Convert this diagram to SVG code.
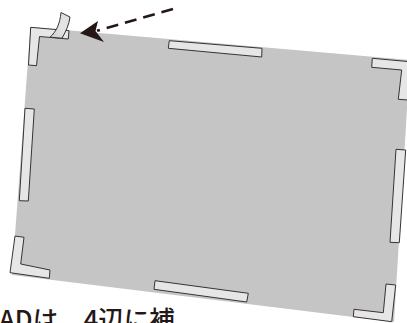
<svg xmlns="http://www.w3.org/2000/svg" width="407" height="323" viewBox="0 0 407 323">
<style>
.tape{fill:#e6e6e6;stroke:#3a3232;stroke-width:1;stroke-linejoin:miter}
.board{fill:#c4c5c4}
.lbl{font-family:"Noto Sans CJK JP","Noto Sans",sans-serif;font-size:25.5px;font-weight:500;fill:#231815}
</style>
<defs>
<linearGradient id="curlG" x1="0" y1="1" x2="1" y2="0">
<stop offset="0" stop-color="#c9c9c9"/>
<stop offset="0.5" stop-color="#e6e6e6"/>
<stop offset="1" stop-color="#dcdcdc"/>
</linearGradient>
</defs>
<g id="board"><polygon class="board" points="30.5,27 410,60 394,322 12,275"/></g>
<g id="tape-tl">
<polygon class="tape" points="30.7,27.3 69,30.7 68.3,39 39.5,36.5 36.5,65.7 28.5,65"/>
<path d="M50,37.2 C56,32 60,24 61,12.5 L70,17 C69,25 66,31 62,38.2 Z" fill="url(#curlG)" stroke="#3a3232" stroke-width="1"/>
</g>
<g id="tape-top"><polygon class="tape" points="169.3,40.7 262,48.3 261.7,57 168.3,48.3"/></g>
<g id="tape-tr"><polygon class="tape" points="372.3,58.3 413,62 408,100 398.3,99.3 401.7,70 371.7,67.3"/></g>
<g id="tape-right"><polygon class="tape" points="396,149.3 405.7,150 399.3,242.7 390,242.3"/></g>
<g id="tape-br"><polygon class="tape" points="386,284 395.7,285 391.7,321.7 353.3,316.7 354,309.3 383.3,312.7"/></g>
<g id="tape-bottom"><polygon class="tape" points="155,280.7 248.3,293.3 246.7,302 154,289.3"/></g>
<g id="tape-bl"><polygon class="tape" points="15,236 24,237.3 20.7,264 50,270 49.3,278.3 10,272.7"/></g>
<g id="tape-left"><polygon class="tape" points="25,108.3 34.3,109 28.3,201 19.3,200.7"/></g>
<g id="connectors">
<line x1="173" y1="9" x2="97" y2="30.8" stroke="#231815" stroke-width="2.6" stroke-dasharray="12,7"/>
<polygon points="80,33.3 98,21 95.5,31 104,42" fill="#231815"/>
</g>
<g id="caption"><text class="lbl" x="-1" y="328.5">ADは、4辺に補</text></g>
</svg>
